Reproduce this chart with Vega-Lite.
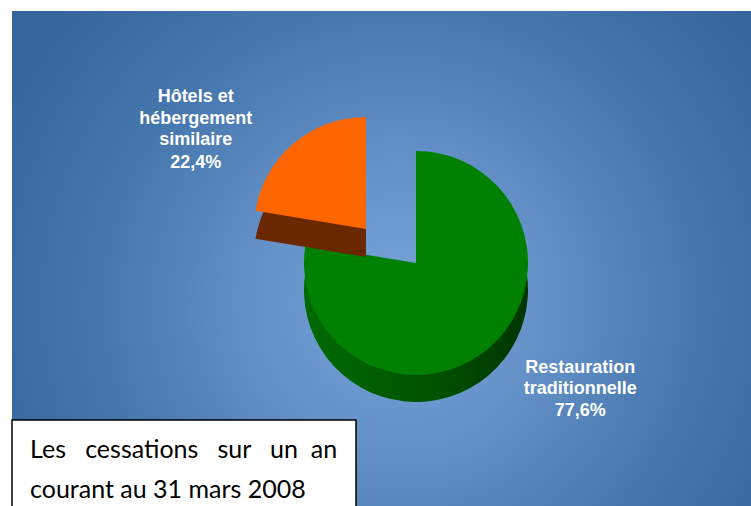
{
  "$schema": "https://vega.github.io/schema/vega-lite/v6.json",
  "width": 808,
  "height": 504,
  "autosize": {"type": "none"},
  "padding": {"left": 12, "top": 11, "right": -69, "bottom": -9},
  "background": "white",
  "config": {
    "view": {"stroke": null},
    "locale": {"number": {"decimal": ",", "thousands": "\u00a0", "grouping": [3], "currency": ["", "\u00a0€"], "percent": "%"}},
    "legend": {"strokeWidth": 1.5}
  },
  "data": {
    "values": [
      {"categorie": "Restauration traditionnelle", "libelle": ["Restauration", "traditionnelle"], "part": 0.776},
      {"categorie": "Hôtels et hébergement similaire", "libelle": ["Hôtels et", "hébergement", "similaire"], "part": 0.224}
    ]
  },
  "transform": [
    {"stack": "part", "groupby": [], "sort": [{"field": "part", "order": "descending"}], "as": ["t0", "t1"]}
  ],
  "layer": [
    {
      "data": {"values": [{}]},
      "mark": {
        "type": "rect",
        "fill": {
          "gradient": "radial",
          "x1": 0.48, "y1": 0.55, "r1": 0,
          "x2": 0.48, "y2": 0.55, "r2": 0.56,
          "stops": [
            {"offset": 0, "color": "#76a4d8"},
            {"offset": 0.3, "color": "#6592c9"},
            {"offset": 0.65, "color": "#4677ae"},
            {"offset": 0.85, "color": "#3b6ba1"},
            {"offset": 1, "color": "#36669b"}
          ]
        }
      },
      "encoding": {}
    },
    {
      "transform": [{"filter": "datum.categorie === 'Restauration traditionnelle'"}],
      "mark": {
        "type": "arc", "outerRadius": 112, "yOffset": 27,
        "fill": {"gradient": "linear", "x1": 0, "y1": 0, "x2": 1, "y2": 0,
          "stops": [{"offset": 0, "color": "#006a00"}, {"offset": 0.55, "color": "#005400"}, {"offset": 1, "color": "#003400"}]}
      },
      "encoding": {
        "theta": {"field": "t0", "type": "quantitative", "scale": {"domain": [0, 1], "range": [0, 6.283185307179586]}},
        "theta2": {"field": "t1"}
      }
    },
    {
      "transform": [{"filter": "datum.categorie === 'Restauration traditionnelle'"}],
      "mark": {"type": "arc", "outerRadius": 112},
      "encoding": {
        "theta": {"field": "t0", "type": "quantitative"},
        "theta2": {"field": "t1"},
        "color": {
          "field": "categorie", "type": "nominal",
          "scale": {"domain": ["Restauration traditionnelle", "Hôtels et hébergement similaire"], "range": ["#008000", "#ff6600"]},
          "legend": {
            "orient": "none", "legendX": 0, "legendY": 409,
            "values": [],
            "title": ["Les\u00a0\u00a0\u00a0cessations\u00a0\u00a0\u00a0sur\u00a0\u00a0\u00a0un\u00a0\u00a0an", "courant au 31 mars 2008"],
            "titleFont": "Lato", "titleFontSize": 25, "titleFontWeight": "normal", "titleColor": "black",
            "titleLineHeight": 40, "titleBaseline": "top", "titleLimit": 600, "titleAlign": "left",
            "titlePadding": 60,
            "padding": 18, "fillColor": "white", "strokeColor": "black",
            "symbolOpacity": 0, "symbolSize": 0, "labelOpacity": 0, "labelLimit": 5, "labelFontSize": 4
          }
        }
      }
    },
    {
      "transform": [{"filter": "datum.categorie === 'Hôtels et hébergement similaire'"}],
      "mark": {"type": "arc", "outerRadius": 112, "xOffset": -50, "yOffset": -6, "fill": "#6a2800"},
      "encoding": {
        "theta": {"field": "t0", "type": "quantitative"},
        "theta2": {"field": "t1"}
      }
    },
    {
      "transform": [{"filter": "datum.categorie === 'Hôtels et hébergement similaire'"}],
      "mark": {"type": "arc", "outerRadius": 112, "xOffset": -50, "yOffset": -34},
      "encoding": {
        "theta": {"field": "t0", "type": "quantitative"},
        "theta2": {"field": "t1"},
        "color": {"field": "categorie", "type": "nominal"}
      }
    },
    {
      "mark": {
        "type": "text", "radius": 220, "font": "Liberation Sans", "fontWeight": "bold", "fontSize": 18,
        "lineHeight": 21.5, "color": "white", "align": "center", "baseline": "alphabetic",
        "xOffset": {"expr": "datum.categorie === 'Restauration traditionnelle' ? 22 : -78"},
        "yOffset": {"expr": "datum.categorie === 'Restauration traditionnelle' ? -58 : 7"}
      },
      "encoding": {
        "theta": {"field": "part", "type": "quantitative", "stack": true},
        "order": {"field": "part", "sort": "descending"},
        "text": {"field": "libelle"}
      }
    },
    {
      "mark": {
        "type": "text", "radius": 220, "font": "Liberation Sans", "fontWeight": "bold", "fontSize": 18,
        "color": "white", "align": "center", "baseline": "alphabetic",
        "xOffset": {"expr": "datum.categorie === 'Restauration traditionnelle' ? 22 : -78"},
        "yOffset": {"expr": "datum.categorie === 'Restauration traditionnelle' ? -15 : 73"}
      },
      "encoding": {
        "theta": {"field": "part", "type": "quantitative", "stack": true},
        "order": {"field": "part", "sort": "descending"},
        "text": {"field": "part", "type": "quantitative", "format": ".1%"}
      }
    }
  ]
}
